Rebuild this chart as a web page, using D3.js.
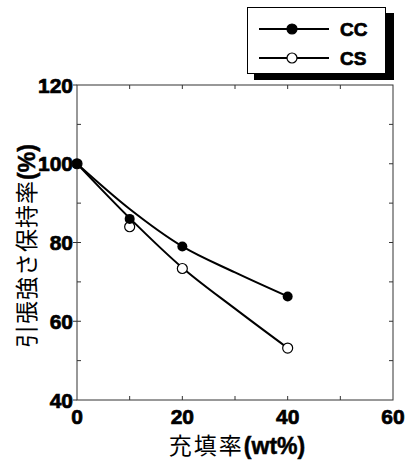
<!DOCTYPE html>
<html>
<head>
<meta charset="utf-8">
<script src="https://cdn.jsdelivr.net/npm/d3@7"></script>
<style>
    body { margin: 0; background: white; }
    svg { display: block; }
</style>
</head>
<body>
<svg id="chart" width="412" height="462"></svg>
<script>
// data
const fillRate = [0, 10, 20, 40];
const ccValues = [100, 86, 79, 66.3];
const csValues = [100, 84, 73.4, 53.2];

// smooth fitted lines drawn in the original (they don't pass exactly through the markers)
const fitX = [0, 10, 20, 30, 40];
const ccFit = [100, 88.5, 79, 72.4, 66.3];
const csFit = [100, 86.2, 73.6, 63.2, 53.2];

const xTicks = [0, 20, 40, 60];
const yTicks = [40, 60, 80, 100, 120];
const seriesNames = ["CC", "CS"];

const margins = { top: 85, right: 19, bottom: 62, left: 77 };
const totalWidth = 412;
const totalHeight = 462;
const innerWidth = totalWidth - margins.left - margins.right;
const innerHeight = totalHeight - margins.top - margins.bottom;

const numFont = "Liberation Sans, Arial, sans-serif";
const jpFont = "Noto Sans CJK JP, Noto Sans CJK SC, sans-serif";

let chart = d3.select("#chart");

let xscale = d3.scaleLinear([0, 60], [margins.left, margins.left + innerWidth]);
let yscale = d3.scaleLinear([40, 120], [margins.top + innerHeight, margins.top]);

// the scanned original has very heavy numerals, a thin stroke fattens them up
function heavy(sel) {
    return sel.attr("font-family", numFont)
        .attr("font-weight", "bold")
        .attr("stroke", "black")
        .attr("stroke-width", 0.7);
}

function makeFrame() {
    let g = chart.append("g").attr("stroke", "#333").attr("stroke-width", 1);
    g.append("rect")
        .attr("x", xscale(0))
        .attr("y", yscale(120))
        .attr("width", xscale(60) - xscale(0))
        .attr("height", yscale(40) - yscale(120))
        .attr("fill", "none");

    // minor ticks every 10, pointing inward on all four sides
    let xs = d3.range(10, 60, 10);
    let ys = d3.range(50, 120, 10);
    xs.forEach(v => {
        g.append("line").attr("x1", xscale(v)).attr("x2", xscale(v))
            .attr("y1", yscale(40)).attr("y2", yscale(40) - 4);
        g.append("line").attr("x1", xscale(v)).attr("x2", xscale(v))
            .attr("y1", yscale(120)).attr("y2", yscale(120) + 4);
    });
    ys.forEach(v => {
        g.append("line").attr("x1", xscale(0)).attr("x2", xscale(0) + 4)
            .attr("y1", yscale(v)).attr("y2", yscale(v));
        g.append("line").attr("x1", xscale(60)).attr("x2", xscale(60) - 4)
            .attr("y1", yscale(v)).attr("y2", yscale(v));
    });
    // labelled y ticks stick out a little to the left
    yTicks.forEach(v => {
        g.append("line").attr("x1", xscale(0) - 4).attr("x2", xscale(0))
            .attr("y1", yscale(v)).attr("y2", yscale(v));
    });
}

function makeTickLabels() {
    chart.selectAll(".ylab").data(yTicks).enter()
        .append("text")
        .attr("class", "ylab")
        .attr("x", xscale(0) - 4)
        .attr("y", d => yscale(d) + 7.5)
        .attr("text-anchor", "end")
        .attr("font-size", 21)
        .call(heavy)
        .text(d => d);

    chart.selectAll(".xlab").data(xTicks).enter()
        .append("text")
        .attr("class", "xlab")
        .attr("x", d => xscale(d))
        .attr("y", yscale(40) + 24)
        .attr("text-anchor", "middle")
        .attr("font-size", 21)
        .call(heavy)
        .text(d => d);

    // axis titles
    let xt = chart.append("text")
        .attr("x", 237)
        .attr("y", 454)
        .attr("text-anchor", "middle")
        .attr("font-size", 23);
    xt.append("tspan").attr("font-family", jpFont).attr("letter-spacing", 2).text("充填率");
    xt.append("tspan").call(heavy).attr("stroke-width", 0.5).text("(wt%)");

    let yt = chart.append("text")
        .attr("transform", "translate(35,246) rotate(-90)")
        .attr("text-anchor", "middle")
        .attr("font-size", 23);
    yt.append("tspan").attr("font-family", jpFont).attr("letter-spacing", 1).text("引張強さ保持率");
    yt.append("tspan").call(heavy).attr("stroke-width", 0.5).text("(%)");
}

function makeLines() {
    let line = d3.line()
        .x(d => xscale(d[0]))
        .y(d => yscale(d[1]))
        .curve(d3.curveMonotoneX);

    [ccFit, csFit].forEach(vals => {
        chart.append("path")
            .attr("d", line(d3.zip(fitX, vals)))
            .attr("fill", "none")
            .attr("stroke", "black")
            .attr("stroke-width", 2);
    });
}

function makeMarkers() {
    chart.selectAll(".cs").data(d3.zip(fillRate, csValues)).enter()
        .append("circle")
        .attr("class", "cs")
        .attr("cx", d => xscale(d[0]))
        .attr("cy", d => yscale(d[1]))
        .attr("r", 5)
        .attr("fill", "white")
        .attr("stroke", "black")
        .attr("stroke-width", 1.2);

    chart.selectAll(".cc").data(d3.zip(fillRate, ccValues)).enter()
        .append("circle")
        .attr("class", "cc")
        .attr("cx", d => xscale(d[0]))
        .attr("cy", d => yscale(d[1]))
        .attr("r", 5)
        .attr("fill", "black");
}

function makeLegend() {
    let g = chart.append("g");
    g.append("rect").attr("x", 254).attr("y", 13).attr("width", 140).attr("height", 67).attr("fill", "black");
    g.append("rect").attr("x", 247.5).attr("y", 7.5).attr("width", 138).attr("height", 66)
        .attr("fill", "white").attr("stroke", "black").attr("stroke-width", 1);

    seriesNames.forEach((name, i) => {
        let y = 29 + i * 29;
        g.append("line").attr("x1", 259).attr("x2", 329).attr("y1", y).attr("y2", y)
            .attr("stroke", "black").attr("stroke-width", 2);
        g.append("circle").attr("cx", 292).attr("cy", y).attr("r", 5)
            .attr("fill", i === 0 ? "black" : "white")
            .attr("stroke", "black").attr("stroke-width", 1.2);
        g.append("text").attr("x", 340).attr("y", y + 7)
            .attr("font-size", 19)
            .call(heavy)
            .text(name);
    });
}

makeFrame();
makeTickLabels();
makeLines();
makeMarkers();
makeLegend();
</script>
</body>
</html>
